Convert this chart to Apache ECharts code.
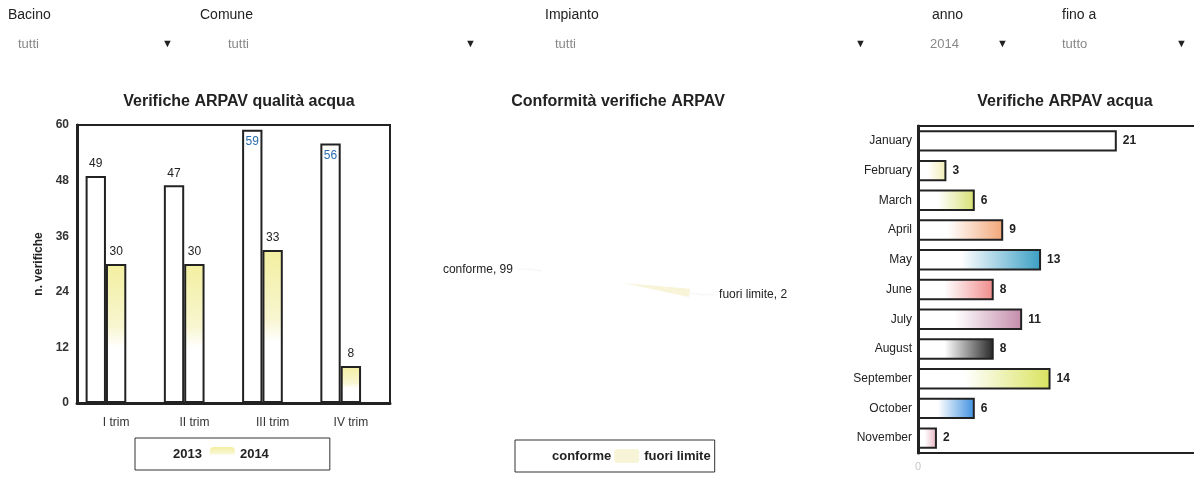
<!DOCTYPE html>
<html>
<head>
<meta charset="utf-8">
<script src="https://cdn.jsdelivr.net/npm/echarts@6/dist/echarts.min.js"></script>
<style>
html,body{margin:0;padding:0;background:#fff;}
#c{width:1194px;height:479px;}
</style>
</head>
<body>
<div id="c"></div>
<script>
// ---- data ----
var quarters = ['I trim', 'II trim', 'III trim', 'IV trim'];
var years = ['2013', '2014', '2015'];
var values2013 = [49, 47, 59, 56];
var values2014 = [30, 30, 33, 8];
var values2015 = [null, null, null, null];
var yTicks = [0, 12, 24, 36, 48, 60];

var conformNames = ['conforme', 'fuori limite'];
var conformValues = [99, 2];

var months = ['January', 'February', 'March', 'April', 'May', 'June', 'July', 'August', 'September', 'October', 'November'];
var monthValues = [21, 3, 6, 9, 13, 8, 11, 8, 14, 6, 2];
var monthAxisTicks = [0, 30];

var filterLabels = ['Bacino', 'Comune', 'Impianto', 'anno', 'fino a'];
var filterValues = ['tutti', 'tutti', 'tutti', '2014', 'tutto'];

// ---- styles ----
var FONT = '"Liberation Sans", Arial, sans-serif';
var monthColors = ['#ffffff', '#f0ecb0', '#d6e070', '#f2a677', '#3a9ec4', '#f08a8a', '#c48cab', '#262626', '#d9e35e', '#3d8fe0', '#e6b0c0'];
var filterX = [8, 200, 545, 932, 1062];
var valueX = [18, 228, 555, 930, 1062];
var arrowX = [162, 465, 855, 997, 1176];

function hGrad(c) {
  return new echarts.graphic.LinearGradient(0, 0, 1, 0, [
    {offset: 0, color: '#ffffff'}, {offset: 0.35, color: '#ffffff'}, {offset: 1, color: c}
  ]);
}
var yellowGrad = new echarts.graphic.LinearGradient(0, 0, 0, 1, [
  {offset: 0, color: '#f3efa0'}, {offset: 0.45, color: '#f8f6d0'}, {offset: 0.6, color: '#ffffff'}, {offset: 1, color: '#ffffff'}
]);

var graphics = [];
for (var i = 0; i < filterLabels.length; i++) {
  graphics.push({type: 'text', left: filterX[i], top: 8, style: {text: filterLabels[i], font: '14px ' + FONT, fill: '#222'}});
  graphics.push({type: 'text', left: valueX[i], top: 38, style: {text: filterValues[i], font: '13px ' + FONT, fill: '#888'}});
  graphics.push({type: 'text', left: arrowX[i], top: 38, style: {text: '\u25BC', font: '11px ' + FONT, fill: '#222'}});
}

var data2013 = values2013.map(function (v) {
  if (v > 54) {
    return {value: v, label: {position: 'insideTop', color: '#2a6db0'}};
  }
  return v;
});

var option = {
  animation: false,
  backgroundColor: '#ffffff',
  textStyle: {fontFamily: FONT},
  graphic: graphics,
  title: [
    {text: 'Verifiche ARPAV qualità acqua', left: 234, top: 89, textAlign: 'center', textStyle: {fontSize: 16, fontWeight: 'bold', color: '#222', fontFamily: FONT}},
    {text: 'Conformità verifiche ARPAV', left: 613, top: 89, textAlign: 'center', textStyle: {fontSize: 16, fontWeight: 'bold', color: '#222', fontFamily: FONT}},
    {text: 'Verifiche ARPAV acqua', left: 1060, top: 89, textAlign: 'center', textStyle: {fontSize: 16, fontWeight: 'bold', color: '#222', fontFamily: FONT}}
  ],
  legend: [
    {
      data: ['2013', '2014'], left: 135, top: 438, orient: 'horizontal',
      padding: [9, 61, 9, 8], itemWidth: 25, itemHeight: 14, itemGap: 8,
      borderColor: '#333', borderWidth: 1,
      itemStyle: {borderWidth: 0},
      textStyle: {fontSize: 13, fontWeight: 'bold', color: '#222', fontFamily: FONT}
    },
    {
      data: conformNames, left: 515, top: 440, orient: 'horizontal',
      padding: [9, 4, 9, 7], itemWidth: 25, itemHeight: 14, itemGap: 3,
      borderColor: '#333', borderWidth: 1,
      itemStyle: {borderWidth: 0},
      textStyle: {fontSize: 13, fontWeight: 'bold', color: '#222', fontFamily: FONT}
    }
  ],
  grid: [
    {left: 77, top: 125, width: 313, height: 278, show: true, borderColor: '#222', borderWidth: 2, backgroundColor: 'transparent', outerBoundsMode: 'none'},
    {left: 918, top: 126, width: 284, height: 327, show: true, borderColor: '#222', borderWidth: 2, backgroundColor: 'transparent', outerBoundsMode: 'none'}
  ],
  xAxis: [
    {
      gridIndex: 0, type: 'category', data: quarters,
      axisLine: {lineStyle: {color: '#222', width: 3}},
      axisTick: {show: false},
      axisLabel: {fontSize: 12, color: '#333', margin: 14, fontFamily: FONT}
    },
    {
      gridIndex: 1, type: 'value', min: monthAxisTicks[0], max: monthAxisTicks[1], interval: monthAxisTicks[1] - monthAxisTicks[0],
      axisLine: {show: true, lineStyle: {color: '#222', width: 2}},
      axisTick: {show: false},
      splitLine: {show: false},
      axisLabel: {fontSize: 11, color: '#c8c8c8', margin: 8, fontFamily: FONT}
    }
  ],
  yAxis: [
    {
      gridIndex: 0, type: 'value', min: yTicks[0], max: yTicks[yTicks.length - 1], interval: yTicks[1] - yTicks[0],
      name: 'n. verifiche', nameLocation: 'middle', nameGap: 32, nameRotate: 90,
      nameTextStyle: {fontSize: 12, fontWeight: 'bold', color: '#222', fontFamily: FONT},
      axisLine: {show: true, lineStyle: {color: '#222', width: 3}},
      axisTick: {show: false},
      splitLine: {show: false},
      axisLabel: {fontSize: 12, fontWeight: 'bold', color: '#333', margin: 8, fontFamily: FONT}
    },
    {
      gridIndex: 1, type: 'category', data: months, inverse: true,
      axisLine: {show: true, lineStyle: {color: '#222', width: 3}},
      axisTick: {show: false},
      axisLabel: {fontSize: 12, color: '#222', margin: 6, fontFamily: FONT}
    }
  ],
  series: [
    {
      name: years[0], type: 'bar', xAxisIndex: 0, yAxisIndex: 0, data: data2013,
      barGap: '0%', barCategoryGap: '22%',
      itemStyle: {color: '#ffffff', borderColor: '#222', borderWidth: 2},
      label: {show: true, position: 'top', fontSize: 12, color: '#222', fontFamily: FONT, distance: 6}
    },
    {
      name: years[1], type: 'bar', xAxisIndex: 0, yAxisIndex: 0, data: values2014,
      barGap: '0%', barCategoryGap: '22%',
      itemStyle: {color: yellowGrad, borderColor: '#222', borderWidth: 2},
      label: {show: true, position: 'top', fontSize: 12, color: '#222', fontFamily: FONT, distance: 6}
    },
    {
      name: years[2], type: 'bar', xAxisIndex: 0, yAxisIndex: 0, data: values2015,
      barGap: '0%', barCategoryGap: '22%',
      itemStyle: {color: '#ffffff', borderColor: '#222', borderWidth: 2}
    },
    {
      name: 'Conformità', type: 'pie',
      center: [616, 282], radius: 75, startAngle: 348,
      data: conformNames.map(function (n, i) {
        return {name: n, value: conformValues[i], itemStyle: {color: i === 0 ? '#ffffff' : '#f7f4d8'}};
      }),
      itemStyle: {borderColor: '#ffffff', borderWidth: 1},
      label: {show: true, formatter: '{b}, {c}', fontSize: 12, color: '#222', fontFamily: FONT},
      labelLine: {show: true, length: 12, length2: 12, lineStyle: {color: '#f4f4f4'}}
    },
    {
      name: 'Verifiche mensili', type: 'bar', xAxisIndex: 1, yAxisIndex: 1,
      barCategoryGap: '28%',
      data: monthValues.map(function (v, i) {
        return {value: v, itemStyle: {color: hGrad(monthColors[i])}};
      }),
      itemStyle: {borderColor: '#222', borderWidth: 2},
      label: {show: true, position: 'right', fontSize: 12, fontWeight: 'bold', color: '#222', fontFamily: FONT, distance: 6}
    }
  ]
};

var chart = echarts.init(document.getElementById('c'), null, {renderer: 'canvas'});
chart.setOption(option);
</script>
</body>
</html>
